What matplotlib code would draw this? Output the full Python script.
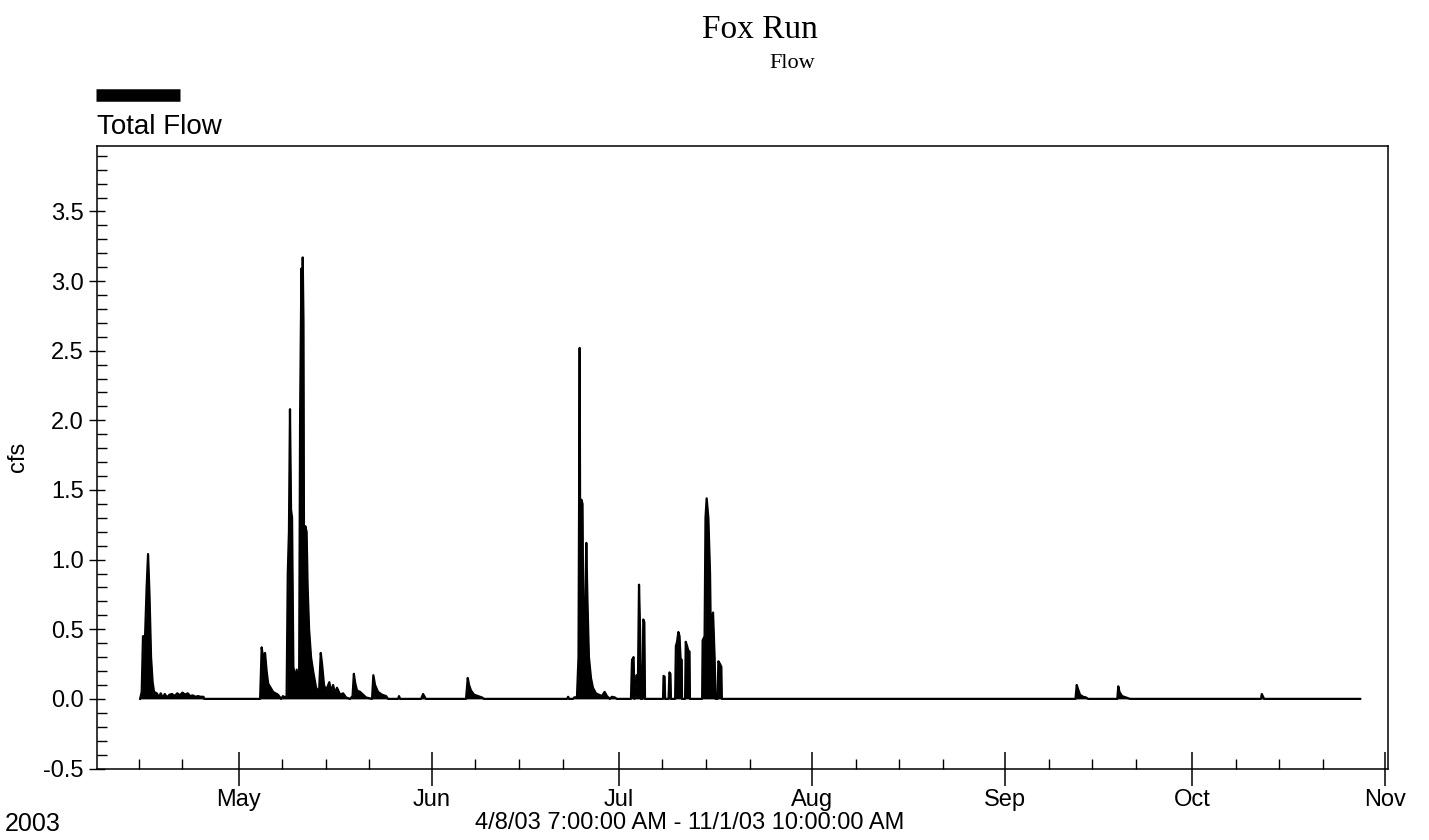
import pandas as pd
import numpy as np
import matplotlib
matplotlib.use('Agg')
import matplotlib.pyplot as plt
import matplotlib.dates as mdates

plt.rcParams['font.family'] = ['Liberation Sans', 'DejaVu Sans']

april_times = ['2003-04-15 05:00', '2003-04-15 11:00', '2003-04-15 16:00', '2003-04-16 00:00',
               '2003-04-16 06:00', '2003-04-16 11:30', '2003-04-16 17:00', '2003-04-16 23:00',
               '2003-04-17 05:00', '2003-04-17 10:30', '2003-04-17 21:00', '2003-04-18 06:00',
               '2003-04-18 12:00', '2003-04-18 20:00', '2003-04-19 04:00', '2003-04-19 12:00',
               '2003-04-19 22:00', '2003-04-20 08:00', '2003-04-20 18:00', '2003-04-21 04:00',
               '2003-04-21 14:00', '2003-04-22 00:00', '2003-04-22 10:00', '2003-04-22 20:00',
               '2003-04-23 06:00', '2003-04-23 16:00', '2003-04-24 02:00', '2003-04-24 12:00',
               '2003-04-24 22:00', '2003-04-25 09:00', '2003-04-25 12:00']
april_flow = [0.0, 0.05, 0.45, 0.45, 0.80, 1.04, 0.75, 0.30, 0.12, 0.05, 0.04, 0.01,
              0.04, 0.01, 0.035, 0.01, 0.03, 0.035, 0.02, 0.04, 0.025, 0.045, 0.03, 0.04,
              0.02, 0.025, 0.015, 0.02, 0.015, 0.015, 0.0]

may_times = ['2003-05-04 11:00', '2003-05-04 17:00', '2003-05-04 22:00', '2003-05-05 06:00',
             '2003-05-05 12:00', '2003-05-05 18:00', '2003-05-06 13:00', '2003-05-07 08:00',
             '2003-05-07 20:00', '2003-05-08 03:00', '2003-05-08 11:00', '2003-05-08 17:00',
             '2003-05-08 21:30', '2003-05-09 02:00', '2003-05-09 06:00', '2003-05-09 10:00',
             '2003-05-09 14:00', '2003-05-09 19:00', '2003-05-10 01:30', '2003-05-10 08:00',
             '2003-05-10 13:00', '2003-05-10 17:00', '2003-05-10 21:00', '2003-05-11 02:00',
             '2003-05-11 04:30', '2003-05-11 07:00', '2003-05-11 10:00', '2003-05-11 13:00',
             '2003-05-11 17:00', '2003-05-11 22:00', '2003-05-12 02:00', '2003-05-12 07:30',
             '2003-05-12 15:00', '2003-05-12 23:00', '2003-05-13 10:30', '2003-05-13 22:00',
             '2003-05-14 04:30', '2003-05-14 09:30', '2003-05-14 17:00', '2003-05-15 01:00',
             '2003-05-15 13:30', '2003-05-15 20:00', '2003-05-16 04:00', '2003-05-16 11:30',
             '2003-05-16 19:00', '2003-05-17 07:00', '2003-05-17 18:30', '2003-05-18 06:00',
             '2003-05-18 21:30', '2003-05-19 07:00', '2003-05-19 12:00', '2003-05-19 16:30',
             '2003-05-20 00:00', '2003-05-20 12:00', '2003-05-20 23:30', '2003-05-21 11:00',
             '2003-05-22 10:00', '2003-05-22 15:00', '2003-05-22 21:30', '2003-05-23 09:00',
             '2003-05-24 00:30', '2003-05-24 16:00', '2003-05-25 00:00', '2003-05-26 14:00',
             '2003-05-26 18:00', '2003-05-26 22:00', '2003-05-30 07:00', '2003-05-30 14:30',
             '2003-05-30 22:00', '2003-05-31 01:00']
may_flow = [0.0, 0.37, 0.30, 0.33, 0.20, 0.11, 0.05, 0.03, 0.0, 0.02, 0.01, 0.02,
            0.90, 1.20, 2.08, 1.36, 1.30, 0.23, 0.15, 0.21, 0.08, 0.05, 2.03, 3.09,
            0.10, 3.17, 2.70, 0.15, 1.24, 1.20, 0.80, 0.50, 0.30, 0.20, 0.08, 0.05,
            0.33, 0.25, 0.10, 0.06, 0.12, 0.05, 0.10, 0.04, 0.08, 0.03, 0.04, 0.01,
            0.0, 0.02, 0.18, 0.12, 0.06, 0.05, 0.03, 0.01, 0.0, 0.17, 0.10, 0.05,
            0.03, 0.02, 0.0, 0.0, 0.02, 0.0, 0.0, 0.035, 0.01, 0.0]

june_times = ['2003-06-06 12:00', '2003-06-06 18:30', '2003-06-06 23:30', '2003-06-07 07:00',
              '2003-06-07 19:00', '2003-06-08 10:00', '2003-06-09 01:30', '2003-06-09 09:00',
              '2003-06-22 17:00', '2003-06-22 21:00', '2003-06-23 01:00', '2003-06-23 15:30',
              '2003-06-23 22:00', '2003-06-24 07:00', '2003-06-24 13:00', '2003-06-24 17:30',
              '2003-06-24 20:30', '2003-06-25 00:00', '2003-06-25 04:30', '2003-06-25 08:00',
              '2003-06-25 14:00', '2003-06-25 19:00', '2003-06-25 23:30', '2003-06-26 05:00',
              '2003-06-26 13:00', '2003-06-26 20:30', '2003-06-27 08:00', '2003-06-27 19:30',
              '2003-06-28 07:00', '2003-06-28 17:30', '2003-06-29 02:30', '2003-06-29 14:00',
              '2003-06-29 21:30', '2003-06-30 09:00', '2003-06-30 17:00']
june_flow = [0.0, 0.15, 0.10, 0.06, 0.03, 0.02, 0.01, 0.0,
             0.0, 0.015, 0.0, 0.0, 0.012, 0.01, 0.30, 2.52, 0.30, 1.43, 1.40, 0.30,
             0.60, 1.12, 0.70, 0.30, 0.15, 0.08, 0.04, 0.03, 0.02, 0.05, 0.02, 0.0,
             0.015, 0.01, 0.0]

july_times = ['2003-07-02 23:00', '2003-07-03 03:00', '2003-07-03 09:00', '2003-07-03 12:45',
              '2003-07-03 20:30', '2003-07-04 02:00', '2003-07-04 06:00', '2003-07-04 10:00',
              '2003-07-04 13:00', '2003-07-04 16:00', '2003-07-04 19:00', '2003-07-04 22:30',
              '2003-07-05 02:30', '2003-07-05 05:00', '2003-07-08 02:30', '2003-07-08 04:30',
              '2003-07-08 08:30', '2003-07-08 10:30', '2003-07-08 23:45', '2003-07-09 03:00',
              '2003-07-09 07:00', '2003-07-09 09:00', '2003-07-10 01:00', '2003-07-10 04:00',
              '2003-07-10 08:30', '2003-07-10 13:30', '2003-07-10 18:00', '2003-07-10 22:00',
              '2003-07-11 02:30', '2003-07-11 03:30', '2003-07-11 15:30', '2003-07-11 18:00',
              '2003-07-11 23:00', '2003-07-12 04:00', '2003-07-12 08:30', '2003-07-12 10:00',
              '2003-07-14 09:00', '2003-07-14 11:00', '2003-07-14 18:30', '2003-07-14 22:00',
              '2003-07-15 02:30', '2003-07-15 09:00', '2003-07-15 15:30', '2003-07-15 19:30',
              '2003-07-15 23:30', '2003-07-16 03:00', '2003-07-16 09:00', '2003-07-16 12:45',
              '2003-07-16 20:30', '2003-07-16 23:30', '2003-07-17 06:00', '2003-07-17 11:00',
              '2003-07-17 13:00']
july_flow = [0.0, 0.28, 0.30, 0.0, 0.17, 0.15, 0.82, 0.50, 0.0, 0.23, 0.0, 0.57,
             0.55, 0.0, 0.0, 0.165, 0.16, 0.0, 0.0, 0.19, 0.18, 0.0, 0.0, 0.38,
             0.41, 0.48, 0.45, 0.29, 0.28, 0.0, 0.0, 0.41, 0.38, 0.345, 0.34, 0.0,
             0.0, 0.42, 0.45, 1.30, 1.44, 1.30, 0.90, 0.30, 0.58, 0.62, 0.30, 0.0,
             0.0, 0.27, 0.25, 0.23, 0.0]

fall_times = ['2003-09-12 06:45', '2003-09-12 11:30', '2003-09-12 16:30', '2003-09-13 00:00',
              '2003-09-13 12:00', '2003-09-13 23:30', '2003-09-14 07:00', '2003-09-18 23:45',
              '2003-09-19 03:30', '2003-09-19 08:00', '2003-09-19 18:00', '2003-09-20 09:00',
              '2003-09-21 00:45', '2003-10-12 01:00', '2003-10-12 04:00', '2003-10-12 09:00',
              '2003-10-12 13:00', '2003-10-27 23:00']
fall_flow = [0.0, 0.10, 0.07, 0.03, 0.015, 0.01, 0.0, 0.0, 0.09, 0.05, 0.02, 0.01,
             0.0, 0.0, 0.035, 0.015, 0.0, 0.0]

y_ticks = [-0.5, 0.0, 0.5, 1.0, 1.5, 2.0, 2.5, 3.0, 3.5]

times = pd.to_datetime(april_times + may_times + june_times + july_times + fall_times)
flow = np.array(april_flow + may_flow + june_flow + july_flow + fall_flow)

fig = plt.figure(figsize=(14.29, 8.4), dpi=100)
ax = fig.add_axes([0.0679, 0.0851, 0.9034, 0.7411])

ax.fill_between(times, 0, flow, color='black', linewidth=0)
ax.plot(times, flow, color='black', linewidth=1.6)

ax.set_xlim(pd.Timestamp('2003-04-08 07:00'), pd.Timestamp('2003-11-01 10:00'))
ax.set_ylim(-0.5, 3.97)

ax.xaxis.set_major_locator(mdates.MonthLocator())
ax.xaxis.set_major_formatter(mdates.DateFormatter('%b'))
ax.xaxis.set_minor_locator(mdates.DayLocator(bymonthday=[8, 15, 22]))
ax.set_yticks(y_ticks)
ax.yaxis.set_major_formatter(matplotlib.ticker.FormatStrFormatter('%.1f'))
ax.yaxis.set_minor_locator(matplotlib.ticker.MultipleLocator(0.1))

ax.tick_params(axis='x', which='major', direction='inout', length=25, width=1.1,
               labelsize=17, pad=2)
ax.tick_params(axis='x', which='minor', direction='in', length=7, width=1.0)
ax.tick_params(axis='y', which='major', direction='inout', length=11, width=1.0,
               labelsize=17, pad=4)
ax.tick_params(axis='y', which='minor', direction='in', length=7, width=1.0)
ax.tick_params(top=False, right=False, which='both')

for s in ax.spines.values():
    s.set_linewidth(1.1)

ax.set_ylabel('cfs', fontsize=17, labelpad=10)

# Titles and labels around the plot
fig.text(760 / 1429, 1 - 30 / 840, 'Fox Run', family='Liberation Serif', fontsize=24,
         ha='center', va='center')
fig.text(792 / 1429, 1 - 64 / 840, 'Flow', family='Liberation Serif', fontsize=16,
         ha='center', va='center')
fig.add_artist(plt.Line2D([96 / 1429, 180 / 1429], [1 - 94.5 / 840, 1 - 94.5 / 840],
                          color='black', linewidth=9, solid_capstyle='butt'))
fig.text(97 / 1429, 1 - 127 / 840, 'Total Flow', fontsize=20, ha='left', va='center')
fig.text(5 / 1429, 1 - 824 / 840, '2003', fontsize=18, ha='left', va='center')
fig.text(690 / 1429, 1 - 823 / 840, '4/8/03 7:00:00 AM - 11/1/03 10:00:00 AM', fontsize=17,
         ha='center', va='center')

plt.savefig('out.png', dpi=100)
